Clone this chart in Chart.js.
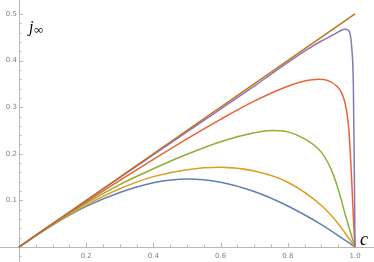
<!DOCTYPE html>
<html>
<head>
<meta charset="utf-8">
<script src="https://cdn.jsdelivr.net/npm/chart.js@4.4.1/dist/chart.umd.min.js"></script>
<style>
  html, body { margin: 0; padding: 0; background: #ffffff; }
  #wrap { width: 374px; height: 262px; position: relative; }
</style>
</head>
<body>
<div id="wrap"><canvas id="chart"></canvas></div>
<script>
// values
const blueC   = [0, 0.1, 0.2, 0.3, 0.4, 0.5, 0.6, 0.7, 0.8, 0.9, 1];
const blueJ   = [0, 0.047, 0.087, 0.117, 0.138, 0.146, 0.139, 0.119, 0.088, 0.048, 0];

const orangeC = [0, 0.1, 0.2, 0.3, 0.4, 0.5, 0.6, 0.7, 0.8, 0.9, 0.95, 1];
const orangeJ = [0, 0.048, 0.09, 0.125, 0.151, 0.166, 0.171, 0.163, 0.139, 0.089, 0.05, 0];

const greenC  = [0, 0.1, 0.2, 0.3, 0.4, 0.5, 0.6, 0.7, 0.75, 0.8, 0.85, 0.9, 0.93, 0.95, 0.97, 0.985, 1];
const greenJ  = [0, 0.049, 0.094, 0.134, 0.168, 0.199, 0.226, 0.245, 0.25, 0.247, 0.232, 0.203, 0.165, 0.124, 0.072, 0.035, 0];

const redC    = [0, 0.1, 0.2, 0.3, 0.4, 0.5, 0.6, 0.7, 0.8, 0.85, 0.89, 0.92, 0.946, 0.96, 0.97, 0.98, 0.985, 0.99, 0.995, 1];
const redJ    = [0, 0.05, 0.097, 0.143, 0.188, 0.232, 0.274, 0.313, 0.345, 0.356, 0.36, 0.357, 0.345, 0.331, 0.31, 0.265, 0.215, 0.145, 0.065, 0];

const purpleC = [0, 0.1, 0.2, 0.3, 0.4, 0.5, 0.6, 0.7, 0.76, 0.856, 0.9, 0.935, 0.96, 0.97, 0.98, 0.985, 0.99, 0.995, 0.998, 1];
const purpleJ = [0, 0.05, 0.0995, 0.149, 0.198, 0.247, 0.296, 0.345, 0.376, 0.423, 0.442, 0.455, 0.465, 0.467, 0.465, 0.458, 0.43, 0.35, 0.16, 0];

const lineC   = [0, 1];
const lineJ   = [0, 0.5];

const xMajorTicks = [0.2, 0.4, 0.6, 0.8, 1.0];
const xTickLabels = ["0.2", "0.4", "0.6", "0.8", "1.0"];
const yMajorTicks = [0.1, 0.2, 0.3, 0.4, 0.5];
const yTickLabels = ["0.1", "0.2", "0.3", "0.4", "0.5"];

function pts(xs, ys) {
    return xs.map((x, i) => ({ x: x, y: ys[i] }));
}

function series(xs, ys, color, order) {
    return {
        data: pts(xs, ys),
        borderColor: color,
        borderWidth: 1.5,
        pointRadius: 0,
        fill: false,
        cubicInterpolationMode: "monotone",
        order: order
    };
}

// mathematica-style axes crossing at the origin
const axesPlugin = {
    id: "mmaAxes",
    beforeDatasetsDraw(chart) {
        const ctx = chart.ctx;
        const xs = chart.scales.x;
        const ys = chart.scales.y;
        const x0 = xs.getPixelForValue(0);
        const y0 = ys.getPixelForValue(0);

        ctx.save();
        ctx.strokeStyle = "#b8b8b8";
        ctx.lineWidth = 1;

        ctx.beginPath();
        ctx.moveTo(0, Math.round(y0) + 0.5);
        ctx.lineTo(chart.width, Math.round(y0) + 0.5);
        ctx.moveTo(Math.round(x0) + 0.5, 0);
        ctx.lineTo(Math.round(x0) + 0.5, chart.height);
        ctx.stroke();

        // x ticks: minor every 0.05, major every 0.2
        ctx.beginPath();
        for (let i = 1; i <= 20; i++) {
            const v = i * 0.05;
            const px = Math.round(xs.getPixelForValue(v)) + 0.5;
            const len = (i % 4 === 0) ? 4 : 2.5;
            ctx.moveTo(px, y0);
            ctx.lineTo(px, y0 - len);
        }
        // y ticks: minor every 0.02, major every 0.1
        for (let i = -1; i <= 25; i++) {
            if (i === 0) continue;
            const v = i * 0.02;
            const py = Math.round(ys.getPixelForValue(v)) + 0.5;
            const len = (i % 5 === 0) ? 4 : 2.5;
            ctx.moveTo(x0, py);
            ctx.lineTo(x0 + len, py);
        }
        ctx.stroke();

        ctx.fillStyle = "#808080";
        ctx.font = "7px 'DejaVu Sans'";
        ctx.textAlign = "center";
        ctx.textBaseline = "middle";
        xMajorTicks.forEach((v, i) => {
            ctx.fillText(xTickLabels[i], xs.getPixelForValue(v), y0 + 9);
        });
        ctx.textAlign = "right";
        yMajorTicks.forEach((v, i) => {
            ctx.fillText(yTickLabels[i], x0 - 2, ys.getPixelForValue(v));
        });

        // axis labels
        ctx.fillStyle = "#000000";
        ctx.textAlign = "left";
        ctx.textBaseline = "alphabetic";
        ctx.font = "italic 16px 'Liberation Serif'";
        ctx.fillText("j", 29, 32);
        ctx.font = "13px 'Liberation Serif'";
        ctx.fillText("\u221e", 34, 34);
        ctx.font = "italic 18px 'Liberation Serif'";
        ctx.fillText("c", 360, 245);
        ctx.restore();
    }
};

new Chart(document.getElementById("chart"), {
    type: "line",
    data: {
        datasets: [
            series(blueC, blueJ, "#5E81B5", 6),
            series(orangeC, orangeJ, "#E19C24", 5),
            series(greenC, greenJ, "#8FB032", 4),
            series(redC, redJ, "#EB6235", 3),
            series(purpleC, purpleJ, "#8778B3", 2),
            series(lineC, lineJ, "#C56E1A", 1)
        ]
    },
    options: {
        responsive: true,
        maintainAspectRatio: false,
        animation: false,
        layout: { padding: 0 },
        plugins: {
            legend: { display: false },
            tooltip: { enabled: false }
        },
        scales: {
            x: { type: "linear", display: false, min: -0.0565, max: 1.0565 },
            y: { type: "linear", display: false, min: -0.0322, max: 0.5300 }
        }
    },
    plugins: [axesPlugin]
});
</script>
</body>
</html>
